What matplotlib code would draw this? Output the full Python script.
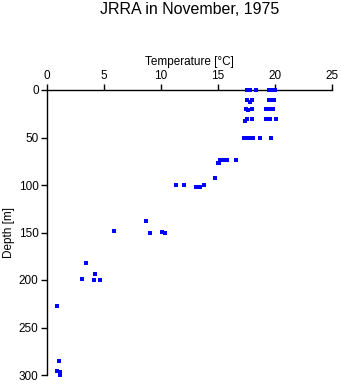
import matplotlib
matplotlib.use("Agg")
import matplotlib.pyplot as plt

# Temperature / depth samples
temperature = [17.5, 17.8, 18.35, 19.45, 19.6, 19.75, 19.9, 20.0,
               17.5, 17.95, 19.45, 19.6, 19.75, 19.9, 17.8,
               17.45, 17.95, 19.25, 19.45, 19.6, 19.85, 17.6,
               17.5, 17.95, 19.25, 19.4, 19.6, 20.1, 17.35,
               17.25, 17.65, 17.85, 18.05, 18.65, 19.65,
               15.2, 15.4, 15.6, 15.8, 16.6, 15.0, 15.1,
               14.75,
               11.35, 12.0, 13.8, 13.05, 13.25, 13.4,
               8.7, 9.0, 10.1, 10.35, 5.85,
               3.45, 4.25, 3.1, 4.15, 4.65,
               0.9, 1.05, 0.9, 1.1, 1.15]
depth = [0, 0, 0, 0, 0, 0, 0, 0,
         11, 11, 11, 11, 11, 11, 13,
         20, 20, 20, 20, 20, 20, 21.5,
         31, 31, 31, 31, 31, 31, 33,
         51, 51, 51, 51, 51, 51,
         74, 74, 74, 74, 74, 76.5, 76.5,
         93,
         100, 100, 100, 102, 102, 102,
         138, 151, 149, 151, 148,
         182, 194, 199, 200, 200,
         227, 285, 296, 297, 300]

x_ticks = [0, 5, 10, 15, 20, 25]
y_ticks = [0, 50, 100, 150, 200, 250, 300]

plt.rcParams['font.family'] = ['Liberation Sans', 'DejaVu Sans']

fig = plt.figure(figsize=(3.41, 3.84), dpi=100)
ax = fig.add_axes([47 / 341, 9 / 384, 285 / 341, 285 / 384])

ax.plot(temperature, depth, linestyle='none', marker='s', markersize=2.3,
        color='#0000ff', markeredgewidth=0, clip_on=False, zorder=3)

ax.set_xlim(0, 25)
ax.set_ylim(300, 0)
ax.set_xticks(x_ticks)
ax.set_yticks(y_ticks)
ax.xaxis.tick_top()
ax.xaxis.set_label_position('top')
ax.set_xlabel('Temperature [\u00b0C]', fontsize=8.5, labelpad=3)
ax.set_ylabel('Depth [m]', fontsize=8.5, labelpad=3)
ax.tick_params(direction='out', length=4, width=1, labelsize=8.5, pad=2)

for side in ['right', 'bottom']:
    ax.spines[side].set_visible(False)
for side in ['left', 'top']:
    ax.spines[side].set_linewidth(1)

fig.text(190 / 341, 1 - 10 / 384, 'JRRA in November, 1975', fontsize=11.5,
         ha='center', va='center')

fig.savefig('out.png', dpi=100)
